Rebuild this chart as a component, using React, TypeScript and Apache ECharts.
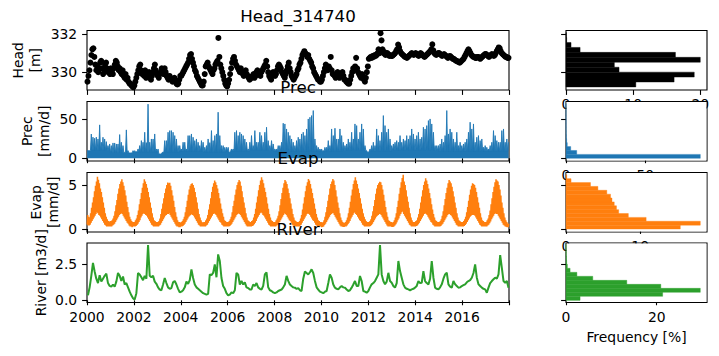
import React, { useEffect, useRef } from "react";
import * as echarts from "echarts";

// ---------------------------------------------------------------------------
// Observed head, one value per half month (rows = years 2000 ... 2017)
// ---------------------------------------------------------------------------
const START_YEAR = 2000;

const headObs: number[][] = [
  [329.5, 329.8, 330.1, 330.5, 330.9, 331.2, 331.25, 330.8, 330.4, 330.1, 330.3, 330.0, 330.2, 330.5, 330.6, 330.2, 329.9, 330.1, 330.4, 330.5, 330.2, 330.0, 330.1, 329.9],
  [330.2, 330.0, 329.9, 330.2, 330.4, 330.6, 330.5, 330.3, 330.1, 330.2, 330.0, 329.9, 330.1, 329.8, 329.7, 329.9, 329.6, 329.7, 329.5, 329.4, 329.4, 329.3, 329.25, 329.2],
  [329.3, 329.5, 329.7, 329.9, 330.1, 330.3, 330.4, 330.1, 329.9, 330.0, 329.8, 330.1, 329.7, 329.9, 329.8, 330.0, 329.7, 329.6, 329.8, 330.0, 330.2, 330.4, 330.1, 329.9],
  [329.8, 329.7, 329.9, 330.0, 330.2, 330.1, 329.9, 330.2, 330.0, 329.8, 329.7, 329.6, 329.8, 329.7, 329.6, 329.5, 329.6, 329.7, 329.5, 329.4, 329.35, 329.4, 329.6, 329.8],
  [329.8, 329.9, 330.0, 330.1, 330.2, 330.3, 330.4, 330.5, 330.7, 330.9, 330.95, 330.7, 330.5, 330.3, 330.1, 330.0, 329.8, 329.7, 329.6, 329.5, 329.4, 329.3, 329.3, 329.5],
  [329.9, 330.3, 330.4, 330.5, 330.3, 330.2, 330.1, 330.0, 329.9, 330.1, 330.2, 330.4, 330.5, 330.6, 331.8, 330.8, 330.4, 330.2, 330.0, 329.8, 329.6, 329.4, 329.3, 329.25],
  [329.4, 329.6, 329.9, 330.2, 330.5, 330.7, 330.8, 330.6, 330.4, 330.3, 330.2, 330.1, 330.0, 330.2, 330.0, 329.9, 329.8, 329.9, 330.1, 329.9, 329.8, 329.7, 329.6, 329.7],
  [329.7, 329.8, 329.9, 329.7, 329.8, 330.0, 330.1, 330.0, 329.9, 329.8, 330.0, 330.1, 330.2, 330.3, 330.4, 330.6, 330.3, 330.0, 329.8, 329.7, 329.6, 329.8, 330.0, 329.9],
  [329.8, 329.9, 330.1, 330.3, 330.4, 330.3, 330.2, 330.0, 329.9, 329.8, 329.7, 329.9, 330.1, 330.3, 330.5, 330.2, 330.0, 329.8, 329.7, 329.6, 329.7, 329.8, 329.9, 330.1],
  [330.2, 330.4, 330.5, 330.7, 330.9, 331.0, 331.1, 331.0, 330.9, 330.8, 330.9, 330.7, 330.6, 330.5, 330.3, 330.2, 330.0, 329.9, 329.8, 329.7, 329.6, 329.6, 329.5, 329.5],
  [329.6, 329.8, 330.0, 330.2, 330.4, 330.3, 330.1, 330.3, 330.2, 330.8, 330.1, 329.9, 329.9, 329.8, 329.7, 329.9, 330.0, 329.8, 329.7, 329.8, 329.9, 330.0, 329.8, 329.6],
  [329.6, 329.5, 329.45, 329.4, 329.4, 329.6, 329.8, 330.0, 330.2, 330.1, 330.3, 330.75, 330.2, 330.0, 329.9, 329.8, 329.7, 329.9, 329.8, 329.6, 329.5, 329.7, 330.0, 330.3],
  [330.7, 330.75, 330.8, 330.75, 330.85, 330.8, 330.9, 330.85, 330.9, 331.0, 331.2, 331.0, 332.05, 331.67, 331.2, 331.0, 331.05, 330.9, 330.95, 331.0, 330.9, 330.85, 330.9, 330.85],
  [330.85, 330.9, 330.95, 331.0, 331.1, 331.2, 331.45, 331.3, 331.1, 331.0, 330.95, 330.9, 330.85, 330.8, 330.8, 330.75, 330.8, 330.85, 330.9, 330.95, 331.0, 330.95, 330.9, 330.95],
  [331.0, 330.95, 330.9, 330.85, 330.9, 331.0, 330.95, 330.9, 330.85, 330.8, 330.85, 330.9, 330.95, 331.0, 331.05, 331.1, 331.2, 331.46, 331.15, 331.0, 330.95, 330.9, 330.95, 331.0],
  [331.0, 330.95, 330.9, 330.85, 330.9, 330.95, 330.9, 330.85, 330.8, 330.75, 330.8, 330.85, 330.8, 330.75, 330.7, 330.7, 330.65, 330.6, 330.6, 330.55, 330.55, 330.5, 330.55, 330.6],
  [330.65, 330.7, 330.8, 330.9, 331.0, 331.1, 331.2, 331.1, 331.0, 330.9, 330.85, 330.8, 330.8, 330.75, 330.75, 330.8, 330.8, 330.75, 330.7, 330.75, 330.8, 330.85, 330.9, 330.95],
  [330.95, 330.9, 330.85, 330.8, 330.85, 330.9, 330.95, 330.9, 330.85, 330.9, 331.0, 331.1, 331.2, 331.3, 331.25, 331.1, 331.0, 330.95, 330.9, 330.85, 330.8, 330.8, 330.75, 330.75],
];

// ---------------------------------------------------------------------------
// Precipitation and river stage: largest daily value in each 26-day window,
// first window ending 2000-01-16
// ---------------------------------------------------------------------------
const SAMPLE_FIRST_DAY = 15;
const SAMPLE_STEP_DAYS = 26;

const precPeaks: number[] = [
  9.8, 9.8, 31, 27, 25.6, 27, 24.7, 42.7, 20.5, 26.9,
  24.7, 21.3, 16.2, 18.3, 16.2, 19.6, 19.6, 18.3, 18.3, 30.3,
  20.5, 16.2, 7.6, 36.3, 9.8, 6.8, 6.8, 9.8, 9.8, 8.5,
  11.9, 16.2, 22.6, 20.5, 33.3, 20, 69.2, 20.5, 24.7, 24.7,
  31.1, 11.9, 11.9, 5.5, 5.5, 7.6, 22.6, 22.6, 33.3, 35.4,
  35.4, 33.3, 29.0, 24.7, 16.2, 16.2, 11.9, 20.5, 20.5, 11.9,
  29.0, 29.0, 31.1, 26.9, 22.6, 24.7, 20.5, 16.2, 22.6, 20.5,
  14.0, 16.2, 24.7, 20, 35.4, 22.6, 29.0, 31.1, 58.9, 29.0,
  16.2, 16.2, 14.0, 14.0, 14.0, 7.6, 11.9, 11.9, 33.3, 35.4,
  29.0, 33.3, 31.1, 29.0, 24.7, 20.5, 11.9, 20.5, 29.0, 16.2,
  35.4, 20.5, 20.5, 33.3, 29.0, 20.5, 33.3, 39.7, 22.6, 16.2,
  22.6, 18.3, 11.9, 11.9, 16.2, 16.2, 20.5, 44.8, 43.9, 37.5,
  33.3, 29.0, 24.7, 20.5, 16.2, 22.6, 26.9, 24.7, 31.1, 33.3,
  29.0, 37.5, 50.3, 52.5, 54.6, 61.0, 24.7, 16.2, 14.0, 11.9,
  11.9, 9.8, 14.0, 14.0, 22.6, 16.2, 37.5, 29.0, 38.4, 24.7,
  24.7, 37.5, 29.0, 20.5, 16.2, 18.3, 24.7, 20.5, 33.3, 24.7,
  43.9, 41.8, 24.7, 33.3, 43.9, 37.5, 16.2, 9.8, 7.6, 11.9,
  16.2, 20.5, 16.2, 37.5, 29.0, 22.6, 33.3, 54.6, 41.8, 33.3,
  37.5, 24.7, 16.2, 18.3, 20.5, 22.6, 20.5, 29.0, 20.5, 24.7,
  22.6, 29.0, 24.7, 29.0, 37.5, 31.1, 24.7, 29.0, 33.3, 24.7,
  26.9, 39.7, 37.5, 41.8, 48.2, 50.3, 43.9, 33.3, 16.2, 16.2,
  16.2, 18.3, 24.7, 20.5, 29.0, 61.0, 31.1, 37.5, 33.3, 24.7,
  20.5, 33.3, 16.2, 20.5, 16.2, 18.3, 20.5, 24.7, 33.3, 46.1,
  37.5, 43.9, 20.5, 26.9, 29.0, 22.6, 24.7, 14.0, 16.2, 14.0,
  11.9, 16.2, 20.5, 35.4, 29.0, 22.6, 20.5, 20.5, 35.4, 37.5,
  20.5, 24.7, 20.5,
];

// typical wet-day level between the peaks, per year
const precBase: number[] = [10, 7, 8, 8, 9, 8, 9, 10, 9, 9, 9, 10, 9, 10, 10, 9, 9, 9];

const riverStage: number[] = [
  0.35, 0.9, 1.7, 2.6, 2.0, 1.5, 1.2, 1.75, 1.3, 1.5,
  1.7, 1.85, 1.2, 1.0, 0.95, 1.1, 0.95, 1.3, 1.9, 1.7,
  1.35, 1.65, 1.1, 1.2, 0.9, 0.6, 0.35, 0.15, 0.05, 0.5,
  1.9, 1.8, 1.6, 1.4, 1.7, 1.5, 3.84, 1.7, 1.6, 1.7,
  1.3, 1.15, 0.9, 0.75, 0.7, 1.1, 1.55, 1.2, 0.9, 0.8,
  0.85, 1.25, 1.35, 1.1, 0.8, 0.55, 0.6, 0.7, 0.9, 1.3,
  1.15, 1.4, 2.15, 1.55, 1.1, 0.9, 0.8, 0.7, 0.6, 0.5,
  0.45, 0.4, 0.45, 1.8, 1.75, 1.9, 2.5, 1.6, 3.19, 2.73,
  1.55, 1.0, 0.8, 0.5, 0.35, 0.4, 0.55, 0.5, 0.7, 1.9,
  1.8, 1.1, 1.35, 1.1, 1.25, 0.9, 0.85, 0.75, 0.75, 1.1,
  1.0, 1.2, 0.9, 0.8, 0.75, 1.0, 1.8, 1.95, 0.9, 0.7,
  0.65, 0.55, 0.5, 0.55, 0.65, 0.7, 0.75, 0.9, 1.1, 1.7,
  1.35, 1.1, 0.99, 0.9, 0.88, 0.8, 0.85, 0.7, 0.65, 1.5,
  2.0, 1.9, 1.8, 1.95, 2.15, 1.9, 1.35, 0.9, 0.75, 0.6,
  0.55, 0.5, 0.6, 0.65, 1.2, 1.8, 1.57, 1.1, 0.88, 0.8,
  0.76, 0.9, 0.99, 0.9, 0.88, 0.75, 0.65, 0.7, 0.88, 1.1,
  1.34, 1.0, 0.99, 1.69, 1.34, 0.65, 0.6, 0.53, 0.65, 0.9,
  1.11, 1.2, 1.34, 1.57, 1.8, 3.84, 1.8, 1.34, 1.11, 1.3,
  1.91, 1.34, 1.22, 1.0, 0.88, 1.2, 2.73, 2.03, 1.57, 1.11,
  0.88, 0.8, 0.76, 0.7, 0.76, 0.8, 0.88, 1.0, 1.34, 1.2,
  1.22, 2.03, 1.34, 1.2, 1.11, 1.5, 2.73, 1.57, 0.88, 0.8,
  0.76, 0.9, 1.11, 1.5, 1.8, 1.92, 1.11, 0.95, 0.88, 1.34,
  1.11, 1.0, 0.88, 0.9, 0.99, 1.05, 1.11, 1.25, 1.34, 1.4,
  1.57, 1.9, 2.5, 1.57, 1.11, 1.0, 0.88, 0.8, 0.76, 0.53,
  0.88, 1.2, 1.34, 1.46, 1.57, 1.5, 1.8, 3.14, 2.26, 1.34,
  1.22, 1.34, 0.88,
];

// ---------------------------------------------------------------------------
// Evaporation: lowest and highest daily value in each half month
// ---------------------------------------------------------------------------
const evapHigh: number[][] = [
  [1.6, 1.4, 1.3, 1.8, 2.4, 3.0, 3.6, 4.3, 4.9, 5.4, 5.95, 5.6, 5.2, 4.6, 4.2, 3.6, 3.0, 2.4, 1.8, 1.4, 1.1, 0.9, 0.8, 0.9],
  [0.9, 1.0, 1.2, 1.5, 2.0, 2.7, 3.3, 4.0, 4.6, 5.1, 5.4, 5.64, 5.3, 4.9, 4.4, 3.8, 3.1, 2.5, 1.9, 1.4, 1.1, 0.9, 0.8, 0.8],
  [0.8, 1.0, 1.2, 1.6, 2.1, 2.8, 3.4, 4.1, 4.7, 5.2, 5.64, 5.4, 5.1, 4.7, 4.2, 3.6, 3.0, 2.4, 1.8, 1.3, 1.0, 0.9, 0.8, 0.8],
  [0.8, 0.9, 1.2, 1.7, 2.3, 2.9, 3.5, 4.1, 4.6, 5.0, 5.27, 5.2, 5.25, 4.9, 4.4, 3.8, 3.2, 2.5, 1.9, 1.4, 1.0, 0.8, 0.8, 0.7],
  [0.8, 0.9, 1.1, 1.4, 1.9, 2.5, 3.2, 3.9, 4.5, 4.9, 5.1, 5.19, 5.0, 4.7, 4.2, 3.6, 3.0, 2.3, 1.7, 1.3, 1.0, 0.8, 0.7, 0.8],
  [0.8, 1.0, 1.2, 1.6, 2.2, 2.8, 3.5, 4.2, 4.8, 5.2, 5.5, 5.3, 5.0, 4.6, 4.1, 3.5, 2.9, 2.3, 1.8, 1.4, 1.0, 0.9, 0.8, 0.8],
  [0.8, 0.9, 1.1, 1.4, 1.9, 2.6, 3.2, 3.9, 4.5, 5.0, 5.3, 5.57, 5.4, 4.9, 4.3, 3.6, 3.0, 2.4, 1.8, 1.3, 1.0, 0.9, 0.8, 0.8],
  [0.9, 1.0, 1.3, 1.7, 2.3, 3.0, 3.7, 4.4, 5.0, 5.5, 5.87, 5.6, 5.2, 4.7, 4.2, 3.6, 2.9, 2.3, 1.7, 1.3, 1.0, 0.9, 0.8, 0.8],
  [0.8, 1.0, 1.2, 1.5, 2.0, 2.7, 3.4, 4.1, 4.7, 5.2, 5.57, 5.4, 5.1, 4.6, 4.1, 3.5, 2.9, 2.3, 1.7, 1.3, 1.0, 0.9, 0.8, 0.8],
  [0.8, 0.9, 1.2, 1.6, 2.2, 2.9, 3.6, 4.3, 4.9, 5.3, 5.68, 5.5, 5.1, 4.6, 4.1, 3.5, 2.9, 2.3, 1.7, 1.3, 1.0, 0.9, 0.8, 0.8],
  [0.7, 0.8, 1.0, 1.4, 1.9, 2.5, 3.2, 3.9, 4.6, 5.1, 5.4, 5.68, 5.5, 5.0, 4.4, 3.7, 3.0, 2.4, 1.8, 1.3, 1.0, 0.8, 0.7, 0.7],
  [0.8, 1.0, 1.3, 1.8, 2.4, 3.1, 3.8, 4.5, 5.1, 5.5, 5.87, 5.5, 5.1, 4.6, 4.1, 3.5, 2.9, 2.3, 1.8, 1.4, 1.1, 0.9, 0.8, 0.8],
  [0.8, 0.9, 1.1, 1.5, 2.0, 2.6, 3.3, 4.0, 4.6, 5.0, 5.2, 5.38, 5.3, 5.0, 4.5, 3.9, 3.2, 2.5, 1.9, 1.4, 1.0, 0.9, 0.8, 0.8],
  [0.7, 0.8, 1.0, 1.3, 1.8, 2.5, 3.2, 4.0, 4.7, 5.3, 5.8, 6.17, 5.4, 5.0, 4.4, 3.7, 3.1, 2.4, 1.8, 1.3, 1.0, 0.8, 0.8, 0.8],
  [0.9, 1.0, 1.3, 1.7, 2.3, 3.0, 3.7, 4.4, 5.0, 5.4, 5.76, 5.5, 5.1, 4.6, 4.1, 3.5, 2.8, 2.2, 1.7, 1.3, 1.0, 0.9, 0.8, 0.8],
  [0.8, 0.9, 1.1, 1.5, 2.0, 2.7, 3.4, 4.1, 4.7, 5.2, 5.57, 5.4, 5.2, 4.8, 4.3, 3.7, 3.0, 2.4, 1.8, 1.3, 1.0, 0.9, 0.8, 0.8],
  [0.8, 0.9, 1.1, 1.4, 1.9, 2.5, 3.2, 3.9, 4.5, 4.9, 5.19, 5.1, 5.0, 4.7, 4.2, 3.6, 3.0, 2.4, 1.8, 1.3, 1.0, 0.9, 0.8, 0.8],
  [0.8, 1.0, 1.2, 1.6, 2.1, 2.8, 3.5, 4.2, 4.8, 5.3, 5.64, 5.5, 5.4, 5.0, 4.5, 3.8, 3.0, 2.4, 1.8, 1.3, 1.0, 0.8, 0.6, 0.6],
];

const evapLow: number[][] = [
  [0.5, 0.4, 0.4, 0.5, 0.7, 0.9, 1.1, 1.3, 1.5, 1.7, 1.9, 1.8, 1.6, 1.5, 1.3, 1.1, 0.9, 0.7, 0.5, 0.4, 0.3, 0.3, 0.3, 0.3],
  [0.3, 0.3, 0.4, 0.5, 0.6, 0.8, 1.0, 1.2, 1.4, 1.6, 1.7, 1.8, 1.7, 1.5, 1.3, 1.1, 0.9, 0.7, 0.6, 0.4, 0.3, 0.3, 0.2, 0.3],
  [0.3, 0.3, 0.35, 0.45, 0.6, 0.8, 1.0, 1.3, 1.5, 1.7, 1.8, 1.7, 1.6, 1.5, 1.3, 1.1, 0.9, 0.7, 0.5, 0.4, 0.3, 0.3, 0.3, 0.3],
  [0.3, 0.3, 0.4, 0.5, 0.7, 0.9, 1.1, 1.3, 1.5, 1.6, 1.7, 1.7, 1.8, 1.6, 1.4, 1.2, 1.0, 0.8, 0.6, 0.4, 0.3, 0.3, 0.2, 0.2],
  [0.3, 0.3, 0.35, 0.45, 0.6, 0.8, 1.0, 1.2, 1.4, 1.5, 1.6, 1.7, 1.6, 1.5, 1.3, 1.1, 0.9, 0.7, 0.5, 0.4, 0.3, 0.3, 0.3, 0.3],
  [0.3, 0.3, 0.4, 0.5, 0.7, 0.9, 1.1, 1.3, 1.5, 1.7, 1.8, 1.7, 1.6, 1.4, 1.2, 1.0, 0.8, 0.7, 0.5, 0.4, 0.3, 0.3, 0.3, 0.3],
  [0.3, 0.3, 0.35, 0.45, 0.6, 0.8, 1.0, 1.2, 1.4, 1.6, 1.7, 1.8, 1.7, 1.6, 1.4, 1.2, 1.0, 0.8, 0.6, 0.4, 0.3, 0.3, 0.3, 0.3],
  [0.3, 0.35, 0.4, 0.55, 0.7, 0.9, 1.2, 1.4, 1.6, 1.8, 1.9, 1.8, 1.6, 1.5, 1.3, 1.1, 0.9, 0.7, 0.5, 0.4, 0.3, 0.3, 0.3, 0.3],
  [0.3, 0.3, 0.4, 0.5, 0.6, 0.8, 1.0, 1.2, 1.4, 1.6, 1.8, 1.7, 1.6, 1.4, 1.2, 1.0, 0.9, 0.7, 0.5, 0.4, 0.3, 0.3, 0.3, 0.3],
  [0.3, 0.3, 0.4, 0.5, 0.7, 0.9, 1.1, 1.3, 1.5, 1.7, 1.8, 1.7, 1.6, 1.4, 1.2, 1.0, 0.9, 0.7, 0.5, 0.4, 0.3, 0.3, 0.3, 0.3],
  [0.2, 0.25, 0.3, 0.45, 0.6, 0.8, 1.0, 1.2, 1.4, 1.6, 1.7, 1.8, 1.8, 1.6, 1.4, 1.2, 1.0, 0.8, 0.6, 0.4, 0.3, 0.3, 0.25, 0.25],
  [0.3, 0.3, 0.4, 0.55, 0.7, 0.9, 1.2, 1.4, 1.6, 1.8, 1.9, 1.7, 1.6, 1.4, 1.2, 1.0, 0.9, 0.7, 0.5, 0.4, 0.3, 0.3, 0.3, 0.3],
  [0.3, 0.3, 0.35, 0.45, 0.6, 0.8, 1.0, 1.2, 1.4, 1.5, 1.6, 1.7, 1.7, 1.6, 1.4, 1.2, 1.0, 0.8, 0.6, 0.4, 0.3, 0.3, 0.3, 0.3],
  [0.25, 0.25, 0.3, 0.4, 0.55, 0.75, 1.0, 1.2, 1.5, 1.7, 1.9, 2.0, 1.7, 1.5, 1.3, 1.1, 0.9, 0.7, 0.5, 0.4, 0.3, 0.3, 0.3, 0.3],
  [0.3, 0.35, 0.4, 0.55, 0.7, 0.9, 1.1, 1.3, 1.5, 1.7, 1.8, 1.7, 1.6, 1.4, 1.2, 1.0, 0.8, 0.7, 0.5, 0.4, 0.3, 0.3, 0.3, 0.3],
  [0.3, 0.3, 0.35, 0.5, 0.6, 0.8, 1.0, 1.2, 1.4, 1.6, 1.7, 1.7, 1.6, 1.5, 1.3, 1.1, 0.9, 0.7, 0.5, 0.4, 0.3, 0.3, 0.3, 0.3],
  [0.3, 0.3, 0.35, 0.45, 0.6, 0.8, 1.0, 1.2, 1.4, 1.5, 1.6, 1.6, 1.6, 1.5, 1.3, 1.1, 0.9, 0.7, 0.5, 0.4, 0.3, 0.3, 0.3, 0.3],
  [0.3, 0.3, 0.4, 0.5, 0.65, 0.85, 1.1, 1.3, 1.5, 1.7, 1.8, 1.7, 1.7, 1.5, 1.3, 1.1, 0.9, 0.7, 0.5, 0.4, 0.3, 0.25, 0.2, 0.2],
];

// ---------------------------------------------------------------------------
// Histograms: bin edges and frequency [%] per bin (bottom to top)
// ---------------------------------------------------------------------------
const headBinEdges = [329.22, 329.48, 329.74, 330.0, 330.26, 330.52, 330.78, 331.04, 331.3, 331.56, 331.82, 332.08];
const headFreq = [10.4, 16.1, 19.1, 7.9, 7.2, 20.0, 16.3, 2.1, 0.75, 0.1, 0.05];

const precBinEdges = [0, 5, 10, 15, 20, 25, 30, 35, 40, 45, 50, 55, 60, 65, 70];
const precFreq = [84.7, 6.75, 2.97, 0.8, 0.4, 0.2, 0.1, 0.06, 0.04, 0.03, 0.02, 0.02, 0.02, 0.02];

const evapBinEdges = [0, 0.44, 0.88, 1.32, 1.76, 2.2, 2.64, 3.08, 3.52, 3.96, 4.4, 4.84, 5.28, 5.72, 6.16];
const evapFreq = [15.4, 18.1, 10.8, 8.4, 7.1, 6.8, 6.5, 6.2, 6.0, 5.5, 4.3, 3.3, 0.68, 0.1];

const riverBinEdges = [0, 0.278, 0.556, 0.834, 1.112, 1.39, 1.668, 1.946, 2.224, 2.502, 2.78, 3.058, 3.336, 3.614, 3.892];
const riverFreq = [3.1, 21.3, 29.6, 20.9, 13.4, 5.9, 2.4, 0.9, 0.3, 0.15, 0.1, 0.05, 0.03, 0.02];

// Tick positions
const yearTicks = [2000, 2002, 2004, 2006, 2008, 2010, 2012, 2014, 2016, 2018];
const headTicks = [330, 332];
const precTicks = [0, 50];
const evapTicks = [0, 5];
const riverTicks = [0, 2.5];
const headHistTicks = [0, 10, 20];
const precHistTicks = [0, 50];
const evapHistTicks = [0, 10];
const riverHistTicks = [0, 20];

// ---------------------------------------------------------------------------
// Layout
// ---------------------------------------------------------------------------
const W = 719;
const H = 356;
const FONT = "DejaVu Sans";
const TICK_FS = 13.9;
const TITLE_FS = 16.7;
const PANEL_TOPS = [30.5, 101.5, 172.5, 243];
const PANEL_H = 59.5;
const TS_LEFT = 87;
const TS_W = 422;
const HIST_LEFT = 566;
const HIST_W = 141;

const Y_RANGES: [number, number][] = [
  [329.06, 332.19],
  [-3.46, 72.6],
  [-0.34, 6.42],
  [-0.15, 3.98],
];

const C_PREC = "#1f77b4";
const C_EVAP = "#ff7f0e";
const C_RIVER = "#2ca02c";

const sampleYear = (k: number) => START_YEAR + (SAMPLE_FIRST_DAY + k * SAMPLE_STEP_DAYS) / 365.25;

function histSeries(edges: number[], freq: number[], color: string, idx: number) {
  const data = freq.map((f, i) => [edges[i], edges[i + 1], f]);
  return {
    type: "custom",
    xAxisIndex: idx,
    yAxisIndex: idx,
    z: 3,
    encode: { x: 2, y: [0, 1] },
    renderItem: (_p: any, api: any) => {
      const lo = api.value(0);
      const hi = api.value(1);
      const f = api.value(2);
      const a = api.coord([0, lo]);
      const b = api.coord([f, hi]);
      return {
        type: "rect",
        shape: { x: a[0], y: b[1], width: b[0] - a[0], height: a[1] - b[1] },
        style: { fill: color, stroke: color, lineWidth: 0.4 },
      };
    },
    data,
  };
}

function buildOption() {
  const headData: number[][] = [];
  headObs.forEach((row, r) =>
    row.forEach((v, h) => headData.push([START_YEAR + r + (h + 0.5) / 24, v]))
  );
  const evapData: number[][] = [];
  evapHigh.forEach((row, r) =>
    row.forEach((hi, h) => {
      evapData.push([START_YEAR + r + (h + 0.2) / 24, evapLow[r][h]]);
      evapData.push([START_YEAR + r + (h + 0.7) / 24, hi]);
    })
  );
  // each window: back to the wet-day level, then up to the window's peak
  const precData: number[][] = [];
  const halfStep = SAMPLE_STEP_DAYS / 365.25 / 2;
  precPeaks.forEach((v, k) => {
    const t = sampleYear(k);
    const base = precBase[Math.min(precBase.length - 1, Math.floor(t - START_YEAR))];
    precData.push([t - halfStep, Math.min(base, v)]);
    precData.push([t, v]);
  });
  const riverData = riverStage.map((v, k) => [sampleYear(k), v]);

  const yTicks = [headTicks, precTicks, evapTicks, riverTicks];
  const histTicks = [headHistTicks, precHistTicks, evapHistTicks, riverHistTicks];
  const histMax = [headFreq, precFreq, evapFreq, riverFreq].map((f) => Math.max(...f) * 1.05);

  const grids: any[] = [];
  const xAxes: any[] = [];
  const yAxes: any[] = [];
  const labelStyle = { color: "#000", fontFamily: FONT, fontSize: TICK_FS };
  const tickStyle = { show: true, length: 4.9, lineStyle: { color: "#000", width: 1.1 } };

  for (let i = 0; i < 4; i++) {
    grids.push({
      left: TS_LEFT, top: PANEL_TOPS[i], width: TS_W, height: PANEL_H,
      show: true, borderColor: "#000", borderWidth: 1.1, backgroundColor: "transparent",
    });
    xAxes.push({
      type: "value", gridIndex: i, min: 2000, max: 2018, interval: 2, z: 0,
      axisLine: { show: false }, splitLine: { show: false },
      axisTick: { ...tickStyle, customValues: yearTicks },
      axisLabel: {
        show: i === 3, ...labelStyle, margin: 7,
        customValues: yearTicks.slice(0, -1),
        formatter: (v: number) => String(Math.round(v)),
      },
    });
    yAxes.push({
      type: "value", gridIndex: i, min: Y_RANGES[i][0], max: Y_RANGES[i][1], z: 0,
      axisLine: { show: false }, splitLine: { show: false },
      axisTick: { ...tickStyle, customValues: yTicks[i] },
      axisLabel: {
        ...labelStyle, margin: 9.8, customValues: yTicks[i],
        formatter: (v: number) => (i === 3 ? v.toFixed(1) : String(v)),
      },
    });
  }
  for (let i = 0; i < 4; i++) {
    grids.push({
      left: HIST_LEFT, top: PANEL_TOPS[i], width: HIST_W, height: PANEL_H,
      show: true, borderColor: "#000", borderWidth: 1.1, backgroundColor: "transparent",
    });
    xAxes.push({
      type: "value", gridIndex: 4 + i, min: 0, max: histMax[i], z: 0,
      axisLine: { show: false }, splitLine: { show: false },
      axisTick: { ...tickStyle, customValues: histTicks[i] },
      axisLabel: { ...labelStyle, margin: 7, customValues: histTicks[i] },
    });
    yAxes.push({
      type: "value", gridIndex: 4 + i, min: Y_RANGES[i][0], max: Y_RANGES[i][1], z: 0,
      axisLine: { show: false }, splitLine: { show: false },
      axisTick: { ...tickStyle, customValues: yTicks[i] },
      axisLabel: { show: false },
    });
  }

  const series: any[] = [
    {
      type: "scatter", xAxisIndex: 0, yAxisIndex: 0, data: headData,
      symbolSize: 6, itemStyle: { color: "#000", opacity: 1 }, z: 3,
    },
    {
      type: "line", xAxisIndex: 1, yAxisIndex: 1, data: precData, showSymbol: false,
      lineStyle: { color: C_PREC, width: 0.9 }, areaStyle: { color: C_PREC, opacity: 1, origin: 0 },
      z: 3,
    },
    {
      type: "line", xAxisIndex: 2, yAxisIndex: 2, data: evapData, showSymbol: false,
      lineStyle: { color: C_EVAP, width: 1.5 }, z: 3,
    },
    {
      type: "line", xAxisIndex: 3, yAxisIndex: 3, data: riverData, showSymbol: false,
      lineStyle: { color: C_RIVER, width: 2 }, z: 3,
    },
    histSeries(headBinEdges, headFreq, "#000", 4),
    histSeries(precBinEdges, precFreq, C_PREC, 5),
    histSeries(evapBinEdges, evapFreq, C_EVAP, 6),
    histSeries(riverBinEdges, riverFreq, C_RIVER, 7),
  ];

  const textStyle = (text: string, fs: number) => ({
    text, fill: "#000", fontFamily: FONT, fontSize: fs, align: "center", verticalAlign: "middle",
    lineHeight: 17,
  });

  const midY = (i: number) => PANEL_TOPS[i] + PANEL_H / 2;
  const graphics: any[] = [];
  // hide the parts of the upper histogram tick labels that fall behind the next panel
  for (let i = 1; i < 4; i++) {
    graphics.push({
      type: "rect", z: 1, silent: true,
      shape: { x: HIST_LEFT + 0.6, y: PANEL_TOPS[i] + 0.6, width: HIST_W - 1.2, height: PANEL_H - 1.2 },
      style: { fill: "#fff" },
    });
  }
  const titles = ["Head_314740", "Prec", "Evap", "River"];
  titles.forEach((t, i) => {
    graphics.push({
      type: "text", z: 100, x: TS_LEFT + TS_W / 2, y: PANEL_TOPS[i] - 14.5,
      style: textStyle(t, TITLE_FS),
    });
  });
  const yNames = [
    { text: "Head\n[m]", x: 26 },
    { text: "Prec\n[mm/d]", x: 35 },
    { text: "Evap\n[mm/d]", x: 44 },
    { text: "River [m3/d]", x: 41 },
  ];
  yNames.forEach((n, i) => {
    graphics.push({
      type: "text", z: 100, x: n.x, y: midY(i), rotation: Math.PI / 2,
      style: textStyle(n.text, TICK_FS),
    });
  });
  graphics.push({
    type: "text", z: 100, x: HIST_LEFT + HIST_W / 2, y: 337,
    style: textStyle("Frequency [%]", TICK_FS),
  });

  return {
    animation: false,
    backgroundColor: "#fff",
    grid: grids,
    xAxis: xAxes,
    yAxis: yAxes,
    series,
    graphic: { elements: graphics },
  };
}

export default function App() {
  const ref = useRef<HTMLDivElement>(null);
  useEffect(() => {
    document.body.style.margin = "0";
    if (!ref.current) return;
    const chart = echarts.init(ref.current, undefined, { renderer: "svg" });
    chart.setOption(buildOption() as any);
    return () => chart.dispose();
  }, []);
  return (
    <div
      ref={ref}
      style={{ position: "absolute", left: 0, top: 0, width: W, height: H }}
    />
  );
}
